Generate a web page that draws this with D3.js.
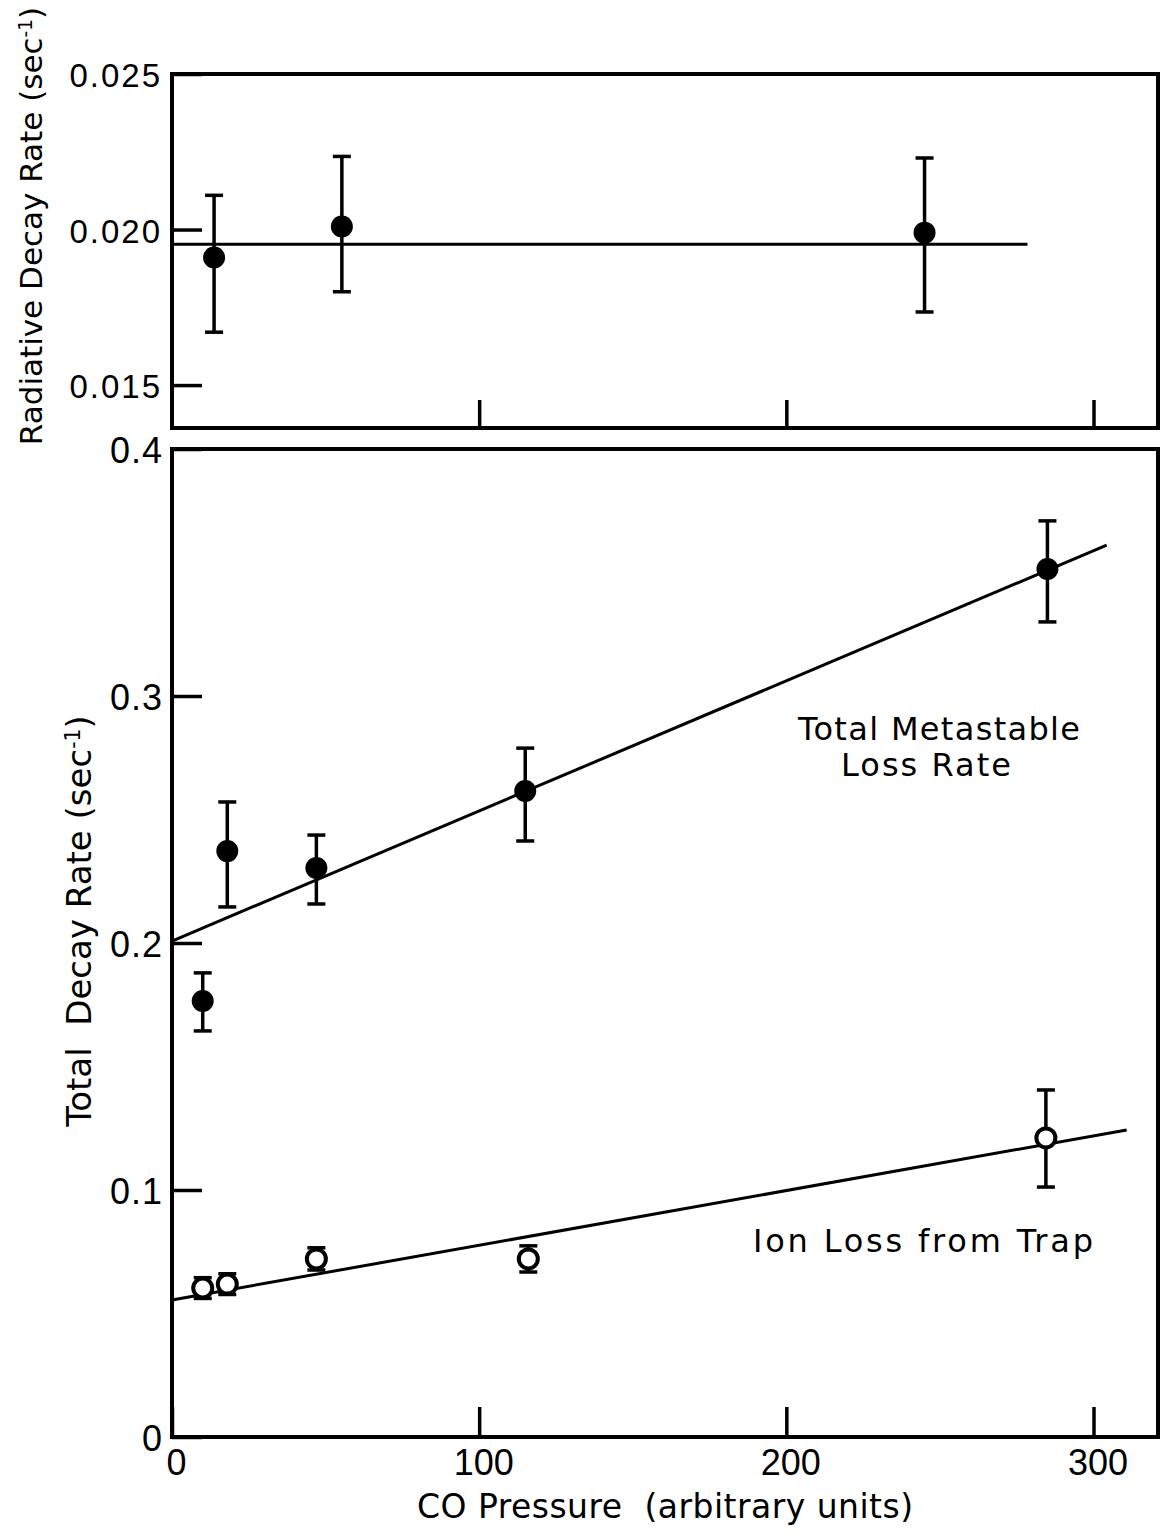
<!DOCTYPE html>
<meta charset="utf-8">
<style>
body { margin: 0; background: #fff; }
svg { font-family: "DejaVu Sans", sans-serif; }
.frame { fill: none; stroke: #000; stroke-width: 4; }
.axis .domain { display: none; }
.axis line { stroke: #000; stroke-width: 3.5; }
.axis text { fill: #000; }
.fit { fill: none; stroke: #000; stroke-width: 3; }
.err { stroke: #000; stroke-width: 3.5; }
</style>
<svg width="1164" height="1532"></svg>
<script src="https://d3js.org/d3.v7.min.js"></script>
<script>
// upper panel: radiative decay rate
var radPressure = [13.7, 55.3, 245]
var radRate = [0.0191, 0.0201, 0.0199]
var radLow = [0.0167, 0.0180, 0.01735]
var radHigh = [0.0211, 0.02235, 0.0223]
var radFitX = [0, 278.5]
var radFitY = [0.01953, 0.01953]
var radTicks = [0.015, 0.020, 0.025]

// lower panel: total metastable loss rate (filled) and ion loss (open)
var metaPressure = [10, 18, 47, 115, 285]
var metaRate = [0.1765, 0.2372, 0.2304, 0.2615, 0.3514]
var metaLow = [0.1644, 0.2146, 0.2158, 0.2413, 0.3300]
var metaHigh = [0.1879, 0.2571, 0.2437, 0.2789, 0.3709]
var metaFitX = [0, 304.3]
var metaFitY = [0.2008, 0.3611]

var ionPressure = [10, 18, 47, 116, 284.5]
var ionRate = [0.0603, 0.0619, 0.0721, 0.0721, 0.1211]
var ionLow = [0.0561, 0.0577, 0.0676, 0.0668, 0.1012]
var ionHigh = [0.0645, 0.0661, 0.0766, 0.0774, 0.1405]
var ionFitX = [0, 310.8]
var ionFitY = [0.0555, 0.1243]

var totalTicks = [0, 0.1, 0.2, 0.3, 0.4]
var pressureTicks = [0, 100, 200, 300]

var svg = d3.select("svg")
var left = 172, right = 1158
var topPanel = {y0: 74, y1: 428}
var botPanel = {y0: 449, y1: 1437}

var x = d3.scaleLinear().domain([0, 321]).range([left, right])
var yRad = d3.scaleLinear().domain([0.01362, 0.025]).range([topPanel.y1, topPanel.y0])
var yTot = d3.scaleLinear().domain([0, 0.4]).range([botPanel.y1, botPanel.y0])

function zip(xs, ys, lo, hi) {
  return xs.map(function(v, i) { return {x: v, y: ys[i], lo: lo ? lo[i] : null, hi: hi ? hi[i] : null} })
}

// ---- top panel ----
svg.append("rect").attr("class", "frame")
  .attr("x", left).attr("y", topPanel.y0)
  .attr("width", right - left).attr("height", topPanel.y1 - topPanel.y0)

var gy1 = svg.append("g").attr("class", "axis")
  .attr("transform", "translate(" + left + ",0)")
  .call(d3.axisLeft(yRad).tickValues(radTicks).tickSize(-30).tickPadding(10).tickFormat(d3.format(".3f")))
gy1.selectAll("text").style("font-size", "33px").style("letter-spacing", "2px").attr("dy", "0.38em")

svg.append("g").attr("class", "axis")
  .attr("transform", "translate(0," + topPanel.y1 + ")")
  .call(d3.axisBottom(x).tickValues([100, 200, 300]).tickSize(-28).tickFormat(""))

var line = d3.line().x(function(d) { return x(d.x) })

svg.append("path").attr("class", "fit")
  .attr("d", line.y(function(d) { return yRad(d.y) })(zip(radFitX, radFitY)))

function errorBars(data, y, cap) {
  var g = svg.append("g")
  g.selectAll("line.v").data(data).enter().append("line").attr("class", "err")
    .attr("x1", function(d) { return x(d.x) }).attr("x2", function(d) { return x(d.x) })
    .attr("y1", function(d) { return y(d.lo) }).attr("y2", function(d) { return y(d.hi) })
  ;["lo", "hi"].forEach(function(k) {
    g.selectAll("line." + k).data(data).enter().append("line").attr("class", "err")
      .attr("x1", function(d) { return x(d.x) - cap }).attr("x2", function(d) { return x(d.x) + cap })
      .attr("y1", function(d) { return y(d[k]) }).attr("y2", function(d) { return y(d[k]) })
  })
}

var radData = zip(radPressure, radRate, radLow, radHigh)
errorBars(radData, yRad, 9)
svg.append("g").selectAll("circle").data(radData).enter().append("circle")
  .attr("cx", function(d) { return x(d.x) }).attr("cy", function(d) { return yRad(d.y) })
  .attr("r", 11).attr("fill", "#000")

// ---- bottom panel ----
svg.append("rect").attr("class", "frame")
  .attr("x", left).attr("y", botPanel.y0)
  .attr("width", right - left).attr("height", botPanel.y1 - botPanel.y0)

var gy2 = svg.append("g").attr("class", "axis")
  .attr("transform", "translate(" + left + ",0)")
  .call(d3.axisLeft(yTot).tickValues(totalTicks).tickSize(-30).tickPadding(9)
    .tickFormat(function(d) { return d === 0 ? "0" : d3.format(".1f")(d) }))
gy2.selectAll("text").style("font-size", "36px").style("letter-spacing", "1px").attr("dy", "0.38em")

var gx = svg.append("g").attr("class", "axis")
  .attr("transform", "translate(0," + botPanel.y1 + ")")
  .call(d3.axisBottom(x).tickValues(pressureTicks).tickSize(-30).tickPadding(12).tickFormat(d3.format("d")))
gx.selectAll("text").style("font-size", "36px").attr("dx", "4px")

svg.append("path").attr("class", "fit")
  .attr("d", line.y(function(d) { return yTot(d.y) })(zip(metaFitX, metaFitY)))
svg.append("path").attr("class", "fit")
  .attr("d", line.y(function(d) { return yTot(d.y) })(zip(ionFitX, ionFitY)))

var metaData = zip(metaPressure, metaRate, metaLow, metaHigh)
errorBars(metaData, yTot, 9)
svg.append("g").selectAll("circle").data(metaData).enter().append("circle")
  .attr("cx", function(d) { return x(d.x) }).attr("cy", function(d) { return yTot(d.y) })
  .attr("r", 11).attr("fill", "#000")

var ionData = zip(ionPressure, ionRate, ionLow, ionHigh)
errorBars(ionData, yTot, 9)
svg.append("g").selectAll("circle").data(ionData).enter().append("circle")
  .attr("cx", function(d) { return x(d.x) }).attr("cy", function(d) { return yTot(d.y) })
  .attr("r", 9.5).attr("fill", "#fff").attr("stroke", "#000").attr("stroke-width", 4)

// ---- labels ----
function rotLabel(cx, cy, size, main) {
  var t = svg.append("text")
    .attr("transform", "translate(" + cx + "," + cy + ") rotate(-90)")
    .attr("text-anchor", "middle").style("font-size", size + "px")
  t.append("tspan").text(main)
  t.append("tspan").attr("dy", "-0.55em").style("font-size", "0.6em").text("-1")
  t.append("tspan").attr("dy", "0.33em").text(")")
}
rotLabel(42, 226, 31, "Radiative Decay Rate (sec")
rotLabel(91, 921, 34, "Total\u00a0\u00a0Decay Rate (sec")

svg.append("text").attr("x", 665).attr("y", 1518).attr("text-anchor", "middle")
  .style("font-size", "33px").attr("textLength", 496).attr("lengthAdjust", "spacing")
  .text("CO Pressure\u00a0\u00a0(arbitrary units)")

svg.append("text").attr("x", 939).attr("y", 740).attr("text-anchor", "middle")
  .style("font-size", "32px").attr("textLength", 282).attr("lengthAdjust", "spacing")
  .text("Total Metastable")
svg.append("text").attr("x", 926).attr("y", 776).attr("text-anchor", "middle")
  .style("font-size", "32px").attr("textLength", 170).attr("lengthAdjust", "spacing")
  .text("Loss Rate")
svg.append("text").attr("x", 923).attr("y", 1252).attr("text-anchor", "middle")
  .style("font-size", "32px").attr("textLength", 340).attr("lengthAdjust", "spacing")
  .text("Ion Loss from Trap")
</script>
